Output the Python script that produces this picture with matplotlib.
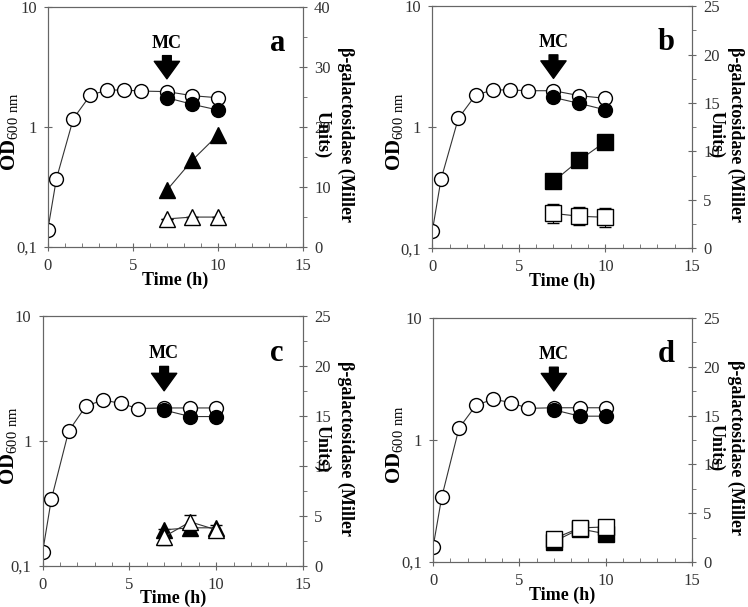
import matplotlib.pyplot as plt
from matplotlib.ticker import FixedLocator, MultipleLocator, NullLocator

plt.rcParams['font.family'] = 'Liberation Serif'
plt.rcParams['mathtext.fontset'] = 'custom'
plt.rcParams['mathtext.rm'] = 'Liberation Serif'
plt.rcParams['mathtext.bf'] = 'Liberation Serif:bold'

# growth (OD600), hours
time_od = [0, 0.5, 1.5, 2.5, 3.5, 4.5, 5.5, 7, 8.5, 10]
time_mc = [7, 8.5, 10]

od_ctrl_a = [0.14, 0.37, 1.18, 1.85, 2.04, 2.04, 2.0, 1.98, 1.83, 1.76]
od_mc_a = [1.76, 1.55, 1.39]
gal_mc_a = [9.5, 14.5, 18.7]
gal_ctrl_a = [4.7, 5.0, 5.0]
gal_ctrl_a_err = [0, 0, 0]

od_ctrl_b = [0.139, 0.37, 1.18, 1.84, 2.03, 2.03, 2.0, 2.0, 1.82, 1.73]
od_mc_b = [1.76, 1.57, 1.39]
gal_mc_b = [6.9, 9.1, 11.0]
gal_ctrl_b = [3.6, 3.3, 3.2]
gal_ctrl_b_err = [1.0, 0.95, 1.0]

od_ctrl_c = [0.129, 0.34, 1.20, 1.91, 2.13, 2.0, 1.82, 1.84, 1.84, 1.84]
od_mc_c = [1.77, 1.57, 1.57]
gal_mc_c = [3.6, 3.8, 3.8]
gal_ctrl_c = [2.9, 4.4, 3.6]
gal_ctrl_c_err = [0.8, 0.7, 0.5]

od_ctrl_d = [0.133, 0.34, 1.25, 1.94, 2.16, 2.03, 1.82, 1.84, 1.84, 1.84]
od_mc_d = [1.77, 1.57, 1.57]
gal_mc_d = [2.1, 3.4, 2.9]
gal_ctrl_d = [2.4, 3.5, 3.6]
gal_ctrl_d_err = [0, 0, 0]

panels = [
    ('a', od_ctrl_a, od_mc_a, gal_ctrl_a, gal_mc_a, gal_ctrl_a_err, '^', 40),
    ('b', od_ctrl_b, od_mc_b, gal_ctrl_b, gal_mc_b, gal_ctrl_b_err, 's', 25),
    ('c', od_ctrl_c, od_mc_c, gal_ctrl_c, gal_mc_c, gal_ctrl_c_err, '^', 25),
    ('d', od_ctrl_d, od_mc_d, gal_ctrl_d, gal_mc_d, gal_ctrl_d_err, 's', 25),
]
# axes box (figure fraction), left-label offset, right-label offset (px), line spacing
boxes = [
    ([0.064, 0.593, 0.341, 0.395], 38, 31, 1.45),
    ([0.578, 0.591, 0.347, 0.399], 37, 34, 1.15),
    ([0.057, 0.068, 0.348, 0.411], 33, 31, 1.45),
    ([0.579, 0.074, 0.346, 0.402], 38, 34, 1.15),
]

grey = '#666666'
W, H = 748, 607
fig = plt.figure(figsize=(7.48, 6.07), dpi=100)

for (letter, od_c, od_m, g_c, g_m, g_err, mk, gmax), (box, loff, roff, lsp) in zip(panels, boxes):
    ax = fig.add_axes(box)
    ax2 = ax.twinx()
    ax.set_zorder(ax2.get_zorder() + 1)
    ax.patch.set_visible(False)
    wpx = box[2] * W

    # beta-gal on right axis
    ms = 11 if mk == 's' else 12
    ax2.errorbar(time_mc, g_c, yerr=g_err, color='#333333', lw=0.8,
                 marker=mk, ms=ms, mfc='white', mec='black',
                 mew=1, capsize=4, elinewidth=0.8, ecolor='black')
    ax2.plot(time_mc, g_m, color='#333333', lw=0.8, marker=mk,
             ms=ms, mfc='black', mec='black')
    ax2.set_ylim(0, gmax)
    ax2.yaxis.set_major_locator(MultipleLocator(10 if gmax == 40 else 5))
    ax2.yaxis.set_minor_locator(MultipleLocator(5 if gmax == 40 else 2.5))
    ax2.text(1 + roff / wpx, 0.47, 'β-galactosidase (Miller\nUnits)',
             transform=ax2.transAxes, rotation=270, ha='center', va='center',
             multialignment='center', fontsize=13, fontweight='bold',
             linespacing=lsp)

    # OD on left axis
    ax.plot(time_od, od_c, color='#333333', lw=0.8, marker='o', ms=10,
            mfc='white', mec='black', mew=1)
    ax.plot(time_mc, od_m, color='#333333', lw=0.8, marker='o', ms=10,
            mfc='black', mec='black')
    ax.set_yscale('log')
    ax.set_ylim(0.1, 10)
    ax.yaxis.set_major_locator(FixedLocator([0.1, 1, 10]))
    ax.yaxis.set_minor_locator(NullLocator())
    ax.set_yticklabels(['0,1', '1', '10'])
    ax.set_xlim(0, 15)
    ax.xaxis.set_major_locator(MultipleLocator(5))
    ax.xaxis.set_minor_locator(MultipleLocator(1))
    ax.set_xlabel('Time (h)', fontsize=13, fontweight='bold', labelpad=-2)
    ax.text(-loff / wpx, 0.48, r'$\mathbf{OD}_{\mathrm{600\ nm}}$',
            transform=ax.transAxes, rotation=90, ha='center', va='center',
            fontsize=15)

    for a in (ax, ax2):
        for s in a.spines.values():
            s.set_color(grey)
        a.tick_params(which='major', direction='inout', length=6, color=grey,
                      labelsize=12, labelcolor='#333333', pad=5)
        a.tick_params(which='minor', direction='in', length=3, color=grey)
    ax2.tick_params(which='minor', direction='out')

    ax.annotate('', xy=(7, 0.69), xytext=(7, 0.81),
                xycoords=('data', 'axes fraction'),
                arrowprops=dict(arrowstyle='simple,head_length=0.9,head_width=1.3,tail_width=0.45',
                                fc='black', ec='black', mutation_scale=14))
    ax.text(7, 0.85, 'MC', transform=ax.get_xaxis_transform(), ha='center',
            va='center', fontsize=13, fontweight='bold')
    ax.text(13.5, 0.85, letter, transform=ax.get_xaxis_transform(), ha='center',
            va='center', fontsize=22, fontweight='bold')

fig.savefig('out.png', dpi=100)
